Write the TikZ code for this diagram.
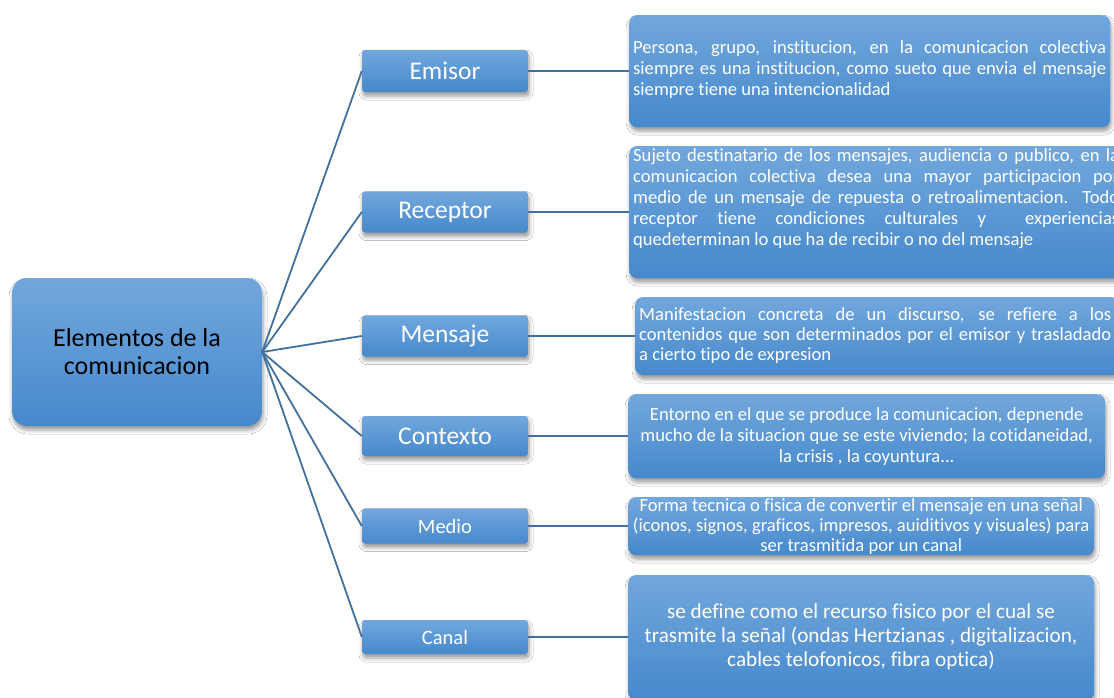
\documentclass[tikz,border=0pt]{standalone}
\usepackage{fontspec}
\setmainfont{Carlito}[Ligatures=NoCommon]
\usetikzlibrary{shadows.blur}
\definecolor{boxtop}{HTML}{72A7DD}
\definecolor{boxbot}{HTML}{4689CC}
\definecolor{linec}{HTML}{41719C}
\begin{document}
\begin{tikzpicture}[x=1pt,y=-1pt,
  shade/.style={draw=none, top color=boxtop, bottom color=boxbot, inner sep=0pt,
    blur shadow={shadow xshift=1pt, shadow yshift=-4pt, shadow blur radius=4pt, shadow opacity=40}},
  rootbox/.style={shade, rounded corners=15pt, minimum width=250pt, minimum height=148pt,
    font=\fontsize{26}{28}\selectfont, text=black, align=center},
  midbox/.style={shade, rounded corners=3pt, minimum width=166pt, text=white},
  bigtxt/.style={font=\fontsize{25.5}{28}\selectfont},
  smalltxt/.style={font=\fontsize{20.5}{24}\selectfont},
  descbox/.style={shade, rounded corners=8pt, anchor=north west},
  desctxt/.style={inner sep=0pt, text=white, font=\fontsize{18.6}{21}\selectfont},
  link/.style={draw=linec, line width=1.8pt}
]
\clip (0,0) rectangle (1114,698);
\fill[white] (0,0) rectangle (1114,698);

% root
\node[rootbox] (root) at (137,352) {Elementos de la\\comunicacion};

% middle boxes
\node[midbox, bigtxt, minimum height=42pt] (emisor) at (445,71) {Emisor};
\node[midbox, bigtxt, minimum height=41pt] (receptor) at (445,212) {Receptor};
\node[midbox, bigtxt, minimum height=41pt] (mensaje) at (445,336) {Mensaje};
\node[midbox, bigtxt, minimum height=40pt] (contexto) at (445,436) {Contexto};
\node[midbox, smalltxt, minimum height=35pt] (medio) at (445,526) {Medio};
\node[midbox, smalltxt, minimum height=34pt] (canal) at (445,637) {Canal};

% description boxes
\node[descbox, minimum width=481pt, minimum height=112pt] (d1) at (629,15) {};
\node[descbox, minimum width=495pt, minimum height=132pt] (d2) at (629,146) {};
\node[descbox, minimum width=485pt, minimum height=78pt] (d3) at (635,297) {};
\node[descbox, minimum width=477pt, minimum height=84pt] (d4) at (628,394) {};
\node[descbox, minimum width=466pt, minimum height=58pt] (d5) at (628,497) {};
\node[descbox, minimum width=466pt, minimum height=125pt] (d6) at (628,575) {};

% description texts
\node[desctxt, anchor=west, text width=473pt, align=justify] (t1) at (633,70)
  {Persona, grupo, institucion, en la comunicacion colectiva\linebreak
   siempre es una institucion, como sueto que envia el mensaje\linebreak
   siempre tiene una intencionalidad};
\node[desctxt, anchor=north west, text width=486pt, align=justify] (t2) at (633,148)
  {Sujeto destinatario de los mensajes, audiencia o publico, en la\linebreak
   comunicacion colectiva desea una mayor participacion por\linebreak
   medio de un mensaje de repuesta o retroalimentacion.\ \ Todo\linebreak
   receptor tiene condiciones culturales y\ \ experiencias\linebreak
   quedeterminan lo que ha de recibir o no del mensaje};
\node[desctxt, anchor=west, text width=472pt, align=justify, font=\fontsize{18.6}{20}\selectfont] (t3) at (639,336)
  {Manifestacion concreta de un discurso, se refiere a los\linebreak
   contenidos que son determinados por el emisor y trasladado\linebreak
   a cierto tipo de expresion};
\node[desctxt, align=center] (t4) at (d4.center)
  {Entorno en el que se produce la comunicacion, depnende\\
   mucho de la situacion que se este viviendo; la cotidaneidad,\\
   la crisis , la coyuntura...};
\node[desctxt, align=center, font=\fontsize{18.6}{20}\selectfont] (t5) at (d5.center)
  {Forma tecnica o fisica de convertir el mensaje en una señal\\
   (iconos, signos, graficos, impresos, auiditivos y visuales) para\\
   ser trasmitida por un canal};
\node[desctxt, align=center, font=\fontsize{21.2}{24}\selectfont] (t6) at (861,637)
  {se define como el recurso fisico por el cual se\\
   trasmite la señal (ondas Hertzianas , digitalizacion,\\
   cables telofonicos, fibra optica)};

% connectors
\foreach \m in {emisor,receptor,mensaje,contexto,medio,canal}
  \draw[link] (root.east) -- (\m.west);
\draw[link] (emisor.east) -- (d1.west |- emisor.east);
\draw[link] (receptor.east) -- (d2.west |- receptor.east);
\draw[link] (mensaje.east) -- (d3.west |- mensaje.east);
\draw[link] (contexto.east) -- (d4.west |- contexto.east);
\draw[link] (medio.east) -- (d5.west |- medio.east);
\draw[link] (canal.east) -- (d6.west |- canal.east);
\end{tikzpicture}
\end{document}
